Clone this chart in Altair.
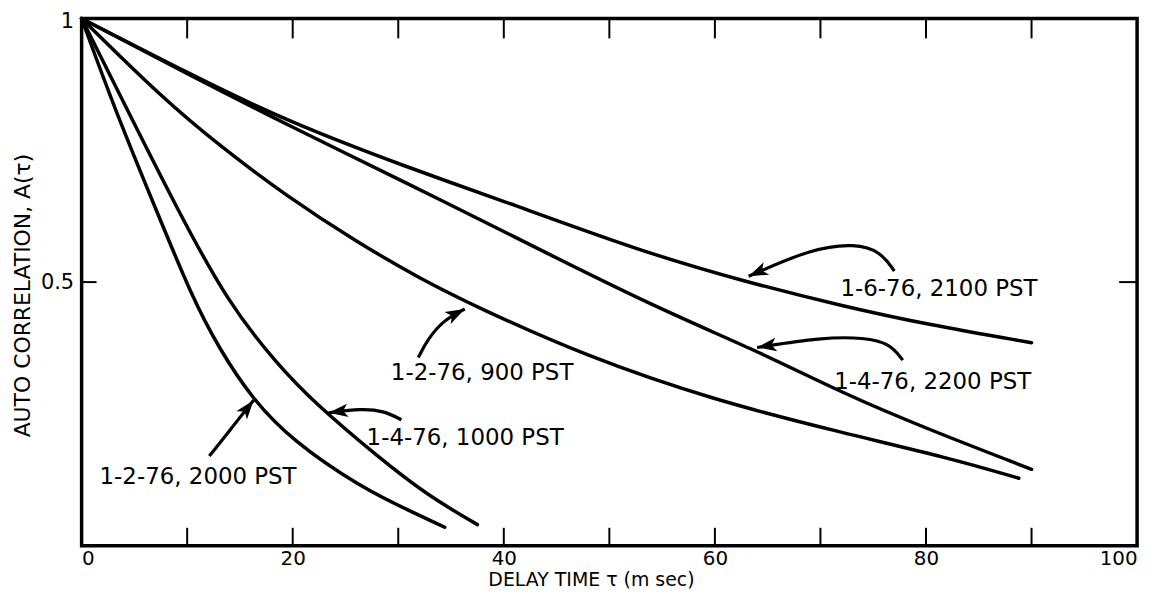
import math
import altair as alt
import pandas as pd

FONT = "DejaVu Sans"

# ---- curve data ----
series_names = ["1-2-76, 2000 PST", "1-4-76, 1000 PST", "1-2-76, 900 PST",
                "1-4-76, 2200 PST", "1-6-76, 2100 PST"]
a_x = [0, 3.1, 7.1, 10.5, 13.0, 16.1, 19.9, 26.5, 31.2, 34.4]
a_y = [1.0, 0.83, 0.635, 0.47, 0.375, 0.28, 0.20, 0.11, 0.065, 0.035]
b_x = [0, 4.5, 9.2, 13.9, 18.5, 22.0, 28.1, 32.8, 37.5]
b_y = [1.0, 0.82, 0.633, 0.46, 0.345, 0.272, 0.168, 0.095, 0.04]
c_x = [0, 7.6, 13.3, 19.3, 25.9, 32.2, 37.5, 47.7, 59.9, 72.1, 82.3, 88.8]
c_y = [1.0, 0.85, 0.755, 0.665, 0.578, 0.505, 0.452, 0.36, 0.276, 0.214, 0.166, 0.128]
d_x = [0, 10.0, 19.3, 31.2, 39.4, 54.0, 64.0, 72.1, 80.3, 90.0]
d_y = [1.0, 0.895, 0.80, 0.684, 0.602, 0.455, 0.37, 0.289, 0.22, 0.145]
e_x = [0, 10.2, 19.3, 31.2, 39.4, 53.0, 63.0, 72.0, 80.0, 90.0]
e_y = [1.0, 0.895, 0.806, 0.715, 0.658, 0.558, 0.50, 0.455, 0.42, 0.385]

# ---- annotation labels ----
label_text = series_names
label_x = [1.7, 27.0, 29.3, 71.3, 71.9]
label_y = [0.13, 0.205, 0.327, 0.31, 0.487]

# ---- arrows (tail ... tip) ----
arrow1_x = [12.1, 14.2, 16.3]
arrow1_y = [0.17, 0.223, 0.276]
arrow2_x = [30.3, 28.6, 26.5, 23.4]
arrow2_y = [0.239, 0.256, 0.260, 0.252]
arrow3_x = [31.9, 32.8, 34.3, 36.3]
arrow3_y = [0.357, 0.392, 0.428, 0.449]
arrow4_x = [77.8, 76.6, 74.2, 70.1, 64.0]
arrow4_y = [0.352, 0.383, 0.395, 0.395, 0.376]
arrow5_x = [77.0, 75.7, 73.3, 69.2, 63.2]
arrow5_y = [0.521, 0.558, 0.573, 0.564, 0.511]

x_tick_vals = [10, 20, 30, 40, 50, 60, 70, 80, 90]
x_label_vals = [0, 20, 40, 60, 80, 100]
y_tick_vals = [0.5]
y_label_vals = [0.5, 1]

W, H = 1061, 530

curves = []
for name, xs_, ys_ in zip(series_names, [a_x, b_x, c_x, d_x, e_x], [a_y, b_y, c_y, d_y, e_y]):
    for i, (x, y) in enumerate(zip(xs_, ys_)):
        curves.append({"series": name, "x": x, "y": y, "o": i})
curves = pd.DataFrame(curves)

arrows = []
heads = []
for k, (xs_, ys_) in enumerate([(arrow1_x, arrow1_y), (arrow2_x, arrow2_y), (arrow3_x, arrow3_y),
                                (arrow4_x, arrow4_y), (arrow5_x, arrow5_y)]):
    for i, (x, y) in enumerate(zip(xs_, ys_)):
        arrows.append({"a": k, "x": x, "y": y, "o": i})
    dx = (xs_[-1] - xs_[-2]) * W / 100.0
    dy_screen = -(ys_[-1] - ys_[-2]) * H
    ang = math.degrees(math.atan2(dx, -dy_screen)) % 360
    heads.append({"a": k, "x": xs_[-1], "y": ys_[-1], "ang": ang})
arrows = pd.DataFrame(arrows)
heads = pd.DataFrame(heads)

labels = pd.DataFrame({"t": label_text, "x": label_x, "y": label_y})

xs = alt.Scale(domain=[0, 100], nice=False)
ys = alt.Scale(domain=[0, 1], nice=False)

lines = alt.Chart(curves).mark_line(color="black", strokeWidth=3.5, interpolate="basis",
                                    strokeCap="round").encode(
    x=alt.X("x:Q", scale=xs, axis=alt.Axis(
        values=x_label_vals, ticks=False, domain=False, grid=False,
        labelFont=FONT, labelFontSize=20, labelColor="black", labelPadding=3,
        title="DELAY TIME  τ (m sec)", titleFont=FONT, titleFontSize=19,
        titleFontWeight="normal", titleColor="black", titleBaseline="alphabetic",
        titleX=512, titleY=40)),
    y=alt.Y("y:Q", scale=ys, axis=alt.Axis(
        values=y_label_vals, ticks=False, domain=False, grid=False,
        labelExpr="datum.value == 1 ? '1' : format(datum.value, '.1f')",
        labelFont=FONT, labelFontSize=21, labelColor="black", labelPadding=8,
        labelFlush=True, labelFlushOffset=8,
        title="AUTO CORRELATION,   A(τ)", titleFont=FONT, titleFontSize=22,
        titleFontWeight="normal", titleColor="black", titlePadding=6, titleY=278)),
    detail="series:N",
    order="o:Q",
)

arrow_lines = alt.Chart(arrows).mark_line(color="black", strokeWidth=3.2, interpolate="basis").encode(
    x=alt.X("x:Q", scale=xs), y=alt.Y("y:Q", scale=ys), detail="a:N", order="o:Q")

arrow_heads = alt.Chart(heads).mark_point(
    shape="M0,0 L0.7,2 L0,1.5 L-0.7,2 Z", filled=True, color="black",
    size=380, opacity=1, strokeWidth=0).encode(
    x=alt.X("x:Q", scale=xs), y=alt.Y("y:Q", scale=ys), angle=alt.Angle("ang:Q", scale=None))

texts = alt.Chart(labels).mark_text(align="left", baseline="middle", font=FONT, fontSize=23,
                                    color="black").encode(
    x=alt.X("x:Q", scale=xs), y=alt.Y("y:Q", scale=ys), text="t:N")

xt = pd.DataFrame({"x": x_tick_vals})
yt = pd.DataFrame({"y": y_tick_vals})
bottom_ticks = alt.Chart(xt).mark_rule(color="black", strokeWidth=2).encode(
    x=alt.X("x:Q", scale=xs), y=alt.value(H), y2=alt.value(H - 18))
top_ticks = alt.Chart(xt).mark_rule(color="black", strokeWidth=2).encode(
    x=alt.X("x:Q", scale=xs), y=alt.value(0), y2=alt.value(20))
left_ticks = alt.Chart(yt).mark_rule(color="black", strokeWidth=2).encode(
    y=alt.Y("y:Q", scale=ys), x=alt.value(0), x2=alt.value(15))
right_ticks = alt.Chart(yt).mark_rule(color="black", strokeWidth=2).encode(
    y=alt.Y("y:Q", scale=ys), x=alt.value(W), x2=alt.value(W - 18))

chart = alt.layer(lines, arrow_lines, arrow_heads, texts,
                  bottom_ticks, top_ticks, left_ticks, right_ticks).properties(
    width=W, height=H,
    autosize=alt.AutoSizeParams(type="none"),
    padding={"left": 74, "top": 9, "right": 16, "bottom": 45},
    background="white",
).configure_view(stroke="black", strokeWidth=3.5)

chart.save("out.html", embed_options={"renderer": "svg", "actions": False})
